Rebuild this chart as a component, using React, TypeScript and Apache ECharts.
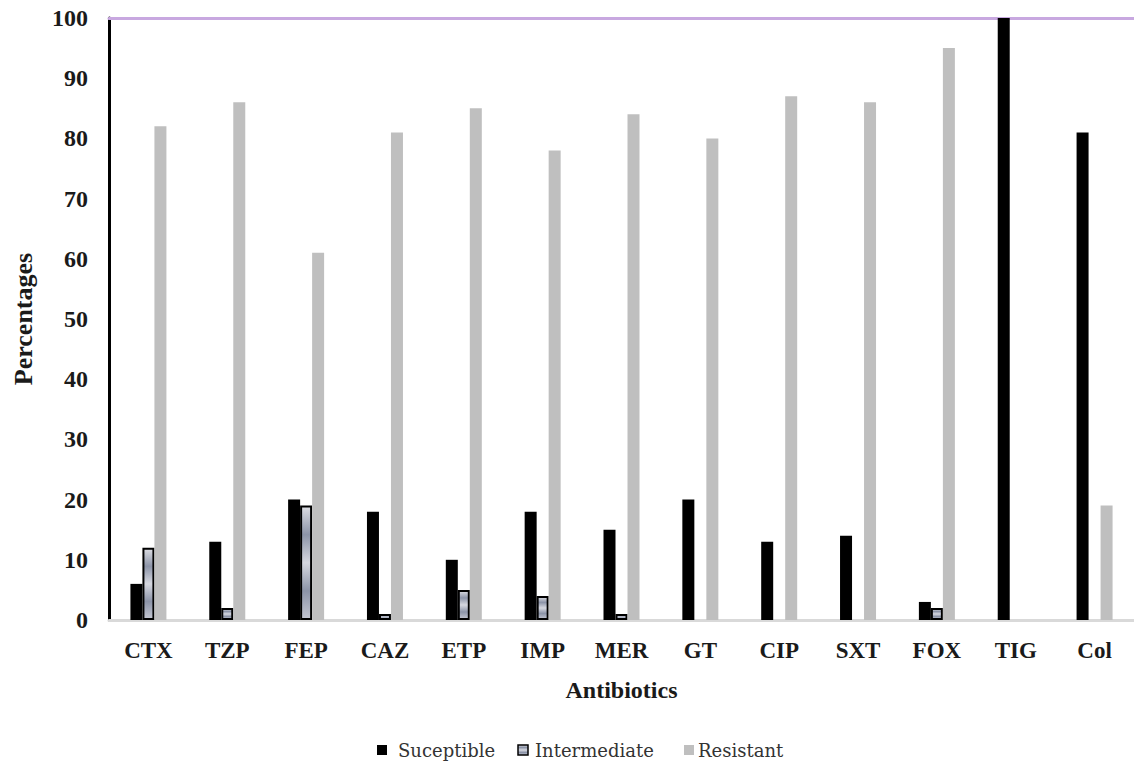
import React, { useEffect, useRef } from "react";
import * as echarts from "echarts";

const categories = ["CTX", "TZP", "FEP", "CAZ", "ETP", "IMP", "MER", "GT", "CIP", "SXT", "FOX", "TIG", "Col"];
const susceptible = [6, 13, 20, 18, 10, 18, 15, 20, 13, 14, 3, 100, 81];
const intermediate = [12, 2, 19, 1, 5, 4, 1, 0, 0, 0, 2, 0, 0];
const resistant = [82, 86, 61, 81, 85, 78, 84, 80, 87, 86, 95, 0, 19];
const yTicks = [0, 10, 20, 30, 40, 50, 60, 70, 80, 90, 100];
const legendNames = ["Suceptible", "Intermediate", "Resistant"];

const FONT = "Liberation Serif";
const LEGEND_FONT = "DejaVu Serif";

const nz = (arr: number[]) => arr.map((v) => (v === 0 ? null : v));

export default function App() {
  const ref = useRef<HTMLDivElement>(null);
  useEffect(() => {
    if (!ref.current) return;
    const chart = echarts.init(ref.current, undefined, { renderer: "svg" });
    const makeGrad = () =>
      new echarts.graphic.LinearGradient(0, 0, 0, 1, [
        { offset: 0, color: "#dcdde3" },
        { offset: 0.25, color: "#8c94a8" },
        { offset: 0.5, color: "#d6d8e0" },
        { offset: 0.75, color: "#8c94a8" },
        { offset: 1, color: "#c4c7d2" },
      ]);
    const fills = ["#000000", makeGrad(), "#bfbfbf"];
    const strokes = [null, "#000000", null];
    const iconX = [377, 518, 684];
    const textX = [398, 535, 698];
    const legendY = 750;
    const legendGraphics: any[] = [];
    legendNames.forEach((n, i) => {
      legendGraphics.push({
        type: "rect",
        shape: { x: iconX[i], y: legendY - 5, width: 10, height: 10 },
        style: strokes[i]
          ? { fill: fills[i], stroke: strokes[i], lineWidth: 1.5 }
          : { fill: fills[i] },
      });
      legendGraphics.push({
        type: "text",
        x: textX[i],
        y: legendY,
        style: {
          text: n,
          fontFamily: LEGEND_FONT,
          fontSize: 18,
          fill: "#333333",
          verticalAlign: "middle",
          align: "left",
        },
      });
    });
    chart.setOption({
      animation: false,
      backgroundColor: "#ffffff",
      textStyle: { fontFamily: FONT },
      grid: { left: 109, right: 0, top: 18, bottom: 148, containLabel: false },
      graphic: legendGraphics,
      xAxis: [
        {
          type: "category",
          data: categories,
          position: "bottom",
          axisLine: { show: true, lineStyle: { color: "#d9d9d9", width: 3 } },
          axisTick: { show: false },
          axisLabel: { fontFamily: FONT, fontWeight: "bold", fontSize: 23, color: "#1a1a1a", margin: 19 },
          name: "Antibiotics",
          nameLocation: "middle",
          nameGap: 58,
          nameTextStyle: { fontFamily: FONT, fontWeight: "bold", fontSize: 24, color: "#1a1a1a" },
        },
        {
          type: "category",
          data: categories,
          position: "top",
          axisLine: { show: true, lineStyle: { color: "#c8a8e0", width: 3 } },
          axisTick: { show: false },
          axisLabel: { show: false },
        },
      ],
      yAxis: {
        type: "value",
        min: 0,
        max: 100,
        interval: 10,
        axisLine: { show: true, lineStyle: { color: "#000", width: 3 } },
        axisTick: { show: false },
        splitLine: { show: false },
        axisLabel: {
          fontFamily: FONT,
          fontWeight: "bold",
          fontSize: 24,
          color: "#1a1a1a",
          margin: 21,
          formatter: (v: number) => (yTicks.includes(v) ? String(v) : ""),
        },
        name: "Percentages",
        nameLocation: "middle",
        nameRotate: 90,
        nameGap: 73,
        nameTextStyle: { fontFamily: FONT, fontWeight: "bold", fontSize: 26, color: "#1a1a1a" },
      },
      series: [
        {
          name: legendNames[0],
          type: "bar",
          data: nz(susceptible),
          barWidth: 12,
          barGap: "0%",
          itemStyle: { color: "#000000" },
        },
        {
          name: legendNames[1],
          type: "bar",
          data: nz(intermediate),
          barWidth: 12,
          barGap: "0%",
          itemStyle: { color: makeGrad(), borderColor: "#000000", borderWidth: 2 },
        },
        {
          name: legendNames[2],
          type: "bar",
          data: nz(resistant),
          barWidth: 12,
          barGap: "0%",
          itemStyle: { color: "#bfbfbf" },
        },
      ],
    });
    return () => chart.dispose();
  }, []);
  return (
    <div
      ref={ref}
      style={{ position: "fixed", left: 0, top: 0, width: 1134, height: 768, background: "#fff" }}
    />
  );
}
